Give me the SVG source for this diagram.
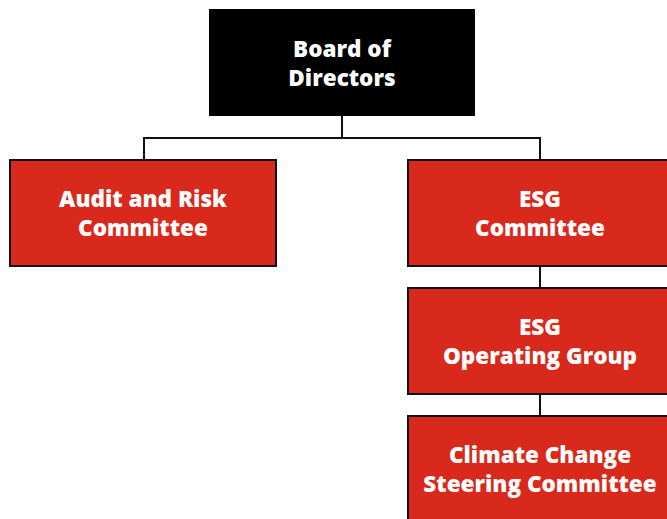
<svg xmlns="http://www.w3.org/2000/svg" width="667" height="519" viewBox="0 0 667 519">
  <style>
    .box { fill: #d9291c; stroke: #111; stroke-width: 2; }
    .top { fill: #000; stroke: #000; stroke-width: 2; }
    .lbl { font-family: "Open Sans", "Noto Sans", "DejaVu Sans", sans-serif; font-weight: 800; font-size: 22.5px; fill: #fff; text-anchor: middle; }
    .wire { fill: none; stroke: #111; stroke-width: 2; }
  </style>
  <rect width="667" height="519" fill="#fff"/>

  <g id="connectors">
    <path class="wire" d="M342 115 V138 M144 160 V138 H540 V160"/>
    <path class="wire" d="M540 266 V288"/>
    <path class="wire" d="M540 394 V416"/>
  </g>

  <g id="board">
    <rect class="top" x="210" y="10" width="264" height="105"/>
    <text class="lbl" x="342" y="57">Board of</text>
    <text class="lbl" x="342" y="86">Directors</text>
  </g>

  <g id="audit">
    <rect class="box" x="10" y="160" width="266" height="106"/>
    <text class="lbl" x="143" y="207">Audit and Risk</text>
    <text class="lbl" x="143" y="236">Committee</text>
  </g>

  <g id="esg-committee">
    <rect class="box" x="408" y="160" width="265" height="106"/>
    <text class="lbl" x="540" y="207">ESG</text>
    <text class="lbl" x="540" y="236">Committee</text>
  </g>

  <g id="esg-operating">
    <rect class="box" x="408" y="288" width="265" height="106"/>
    <text class="lbl" x="540" y="335">ESG</text>
    <text class="lbl" x="540" y="364">Operating Group</text>
  </g>

  <g id="climate">
    <rect class="box" x="408" y="416" width="265" height="106"/>
    <text class="lbl" x="540" y="463">Climate Change</text>
    <text class="lbl" x="540" y="492">Steering Committee</text>
  </g>
</svg>
